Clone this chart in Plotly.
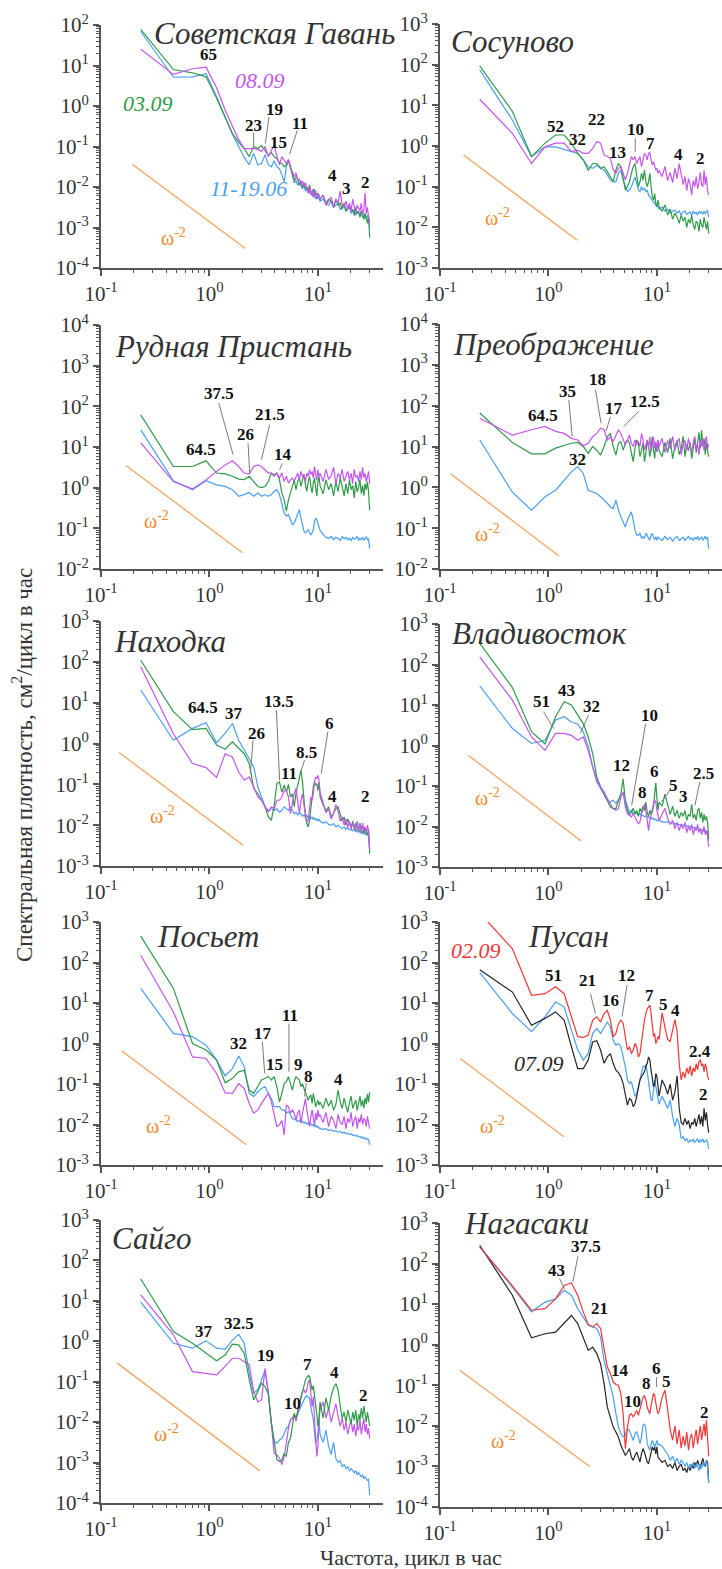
import plotly.graph_objects as go

# ---------------- frequency grid (cycles per hour) ----------------
DF = 30 / 129
K_IDX = list(range(1, 45)) + list(range(45, 130, 3))
FREQ = [k * DF for k in K_IDX]

# ---------------- data: log10 of spectral density ----------------
# 1. Советская Гавань
SG_GREEN = [1.89, 0.90, 0.82, 0.72, 0.20, -0.27, -0.68, -0.90, -1.05, -1.25,
            -1.00, -1.05, -0.98, -1.10, -1.22, -1.15, -1.25, -1.30, -1.40, -1.42,
            -1.50, -1.45, -1.35, -1.50, -1.70, -1.85, -1.75, -1.80, -1.95, -1.85,
            -2.00, -1.90, -2.05, -2.00, -2.10, -1.95, -2.10, -2.15, -2.05, -2.20,
            -2.10, -2.25, -2.15, -2.20,
            -2.30, -2.20, -2.40, -2.30, -2.35, -2.50, -2.30, -2.45, -2.40, -2.55,
            -2.40, -2.60, -2.50, -2.45, -2.60, -2.55, -2.70, -2.50, -2.65, -2.60,
            -2.75, -2.60, -2.70, -2.80, -2.65, -2.75, -2.90, -2.70, -3.25]
SG_BLUE = [1.84, 0.71, 0.72, 0.80, 0.23, -0.30, -0.70, -1.00, -1.27, -1.45,
           -1.17, -1.45, -1.42, -1.20, -1.45, -1.50, -1.35, -1.50, -1.55, -1.70,
           -1.87, -1.50, -1.33, -1.50, -1.75, -1.90, -1.85, -1.95, -1.90, -2.00,
           -2.05, -1.95, -2.10, -2.05, -2.15, -2.10, -2.20, -2.15, -2.25, -2.20,
           -2.30, -2.20, -2.30, -2.25,
           -2.35, -2.30, -2.40, -2.45, -2.35, -2.50, -2.45, -2.40, -2.55, -2.50,
           -2.45, -2.60, -2.55, -2.50, -2.65, -2.60, -2.55, -2.70, -2.60, -2.65,
           -2.70, -2.60, -2.75, -2.70, -2.65, -2.80, -2.70, -2.75, -3.00]
SG_PURPLE = [1.40, 0.78, 0.92, 0.96, 0.45, -0.10, -0.50, -0.83, -1.05, -1.05,
             -1.05, -1.07, -1.12, -1.00, -1.25, -1.10, -0.97, -1.25, -1.45, -1.25,
             -1.35, -1.42, -1.32, -1.55, -1.62, -1.75, -1.65, -1.85, -1.80, -1.95,
             -1.85, -2.00, -1.90, -2.05, -2.15, -2.00, -2.20, -2.10, -2.25, -2.05,
             -2.20, -2.30, -2.15, -2.25,
             -2.30, -2.20, -2.45, -2.35, -2.25, -2.50, -2.30, -2.40, -2.10, -2.45,
             -2.50, -2.35, -2.55, -2.40, -2.60, -2.30, -2.50, -2.65, -2.45, -2.55,
             -2.60, -2.40, -2.70, -2.55, -2.15, -2.65, -2.50, -2.75, -2.90]

# 2. Сосуново
SS_GREEN = [1.97, 0.85, -0.26, 0.07, 0.27, 0.27, 0.07, -0.18, -0.34, -0.60,
            -0.43, -0.43, -0.55, -0.51, -0.63, -0.76, -0.88, -0.59, -0.43, -0.51,
            -0.84, -1.08, -1.00, -0.88, -0.67, -0.51, -0.43, -0.76, -1.00, -0.88,
            -0.67, -0.84, -0.59, -0.88, -1.00, -0.88, -0.67, -1.00, -1.25, -1.33,
            -1.17, -1.41, -1.49, -1.33,
            -1.50, -1.60, -1.45, -1.70, -1.55, -1.80, -1.65, -1.75, -1.90, -1.70,
            -1.85, -1.75, -2.00, -1.80, -1.90, -1.70, -1.95, -2.05, -1.85, -1.90,
            -2.10, -1.80, -1.95, -2.00, -1.75, -1.90, -2.05, -1.85, -2.15]
SS_BLUE = [1.87, 0.64, -0.26, -0.02, -0.02, -0.08, -0.14, -0.18, -0.34, -0.51,
           -0.55, -0.47, -0.55, -0.59, -0.71, -0.84, -0.88, -0.88, -0.67, -0.59,
           -0.84, -1.00, -1.12, -1.08, -1.00, -0.88, -0.76, -0.92, -1.08, -1.12,
           -1.00, -1.08, -1.04, -1.12, -1.08, -1.21, -1.25, -1.29, -1.33, -1.37,
           -1.41, -1.45, -1.49, -1.49,
           -1.55, -1.50, -1.60, -1.55, -1.65, -1.60, -1.58, -1.65, -1.60, -1.70,
           -1.62, -1.60, -1.68, -1.65, -1.62, -1.70, -1.60, -1.66, -1.63, -1.70,
           -1.60, -1.65, -1.62, -1.68, -1.60, -1.66, -1.62, -1.58, -1.75]
SS_PURPLE = [1.15, 0.31, -0.43, -0.02, 0.07, 0.07, -0.14, -0.10, -0.18, -0.18,
             -0.06, 0.11, 0.07, -0.22, -0.26, -0.30, -0.59, -0.67, -0.55, -0.51,
             -0.67, -0.84, -0.67, -0.43, -0.26, -0.34, -0.26, -0.43, -0.34, -0.26,
             -0.51, -0.30, -0.18, -0.22, -0.34, -0.18, -0.16, -0.34, -0.47, -0.39,
             -0.51, -0.59, -0.55, -0.67,
             -0.60, -0.75, -0.50, -0.85, -0.65, -0.90, -0.55, -0.80, -0.43, -0.70,
             -0.95, -0.75, -1.10, -0.80, -0.95, -1.20, -0.85, -1.00, -0.75, -1.05,
             -0.90, -0.65, -0.95, -1.00, -0.60, -0.95, -0.75, -1.10, -1.20]

# 3. Рудная Пристань
RP_GREEN = [1.79, 0.52, 0.52, 0.66, 0.36, 0.34, 0.28, 0.21, 0.20, 0.28,
            0.15, 0.03, 0.00, 0.03, 0.15, 0.36, 0.32, 0.36, 0.20, -0.13,
            -0.30, -0.58, -0.30, -0.13, 0.03, 0.19, -0.05, 0.15, 0.24, 0.03,
            0.19, 0.32, 0.07, -0.09, 0.15, 0.28, 0.03, -0.13, 0.11, 0.24,
            -0.01, -0.21, 0.15, 0.28,
            0.05, -0.15, 0.20, -0.05, 0.10, -0.20, 0.15, -0.10, 0.25, 0.00,
            -0.20, 0.10, -0.15, 0.20, -0.05, 0.05, -0.25, 0.15, -0.10, 0.00,
            0.20, -0.15, 0.05, -0.20, 0.10, -0.05, 0.15, -0.10, -0.55]
RP_PURPLE = [1.10, 0.15, -0.03, 0.19, 0.40, 0.56, 0.66, 0.52, 0.36, 0.34,
             0.52, 0.56, 0.52, 0.44, 0.36, 0.36, 0.28, 0.36, 0.24, 0.36,
             0.15, 0.28, 0.11, 0.19, 0.24, 0.15, 0.28, 0.36, 0.19, 0.40,
             0.28, 0.32, 0.15, 0.36, 0.28, 0.44, 0.32, 0.40, 0.24, 0.52,
             0.32, 0.19, 0.44, 0.28,
             0.35, 0.15, 0.45, 0.20, 0.30, 0.50, 0.10, 0.35, 0.25, 0.45,
             0.15, 0.30, 0.40, 0.20, 0.35, 0.10, 0.45, 0.25, 0.30, 0.15,
             0.40, 0.20, 0.50, 0.25, 0.35, 0.15, 0.30, 0.40, 0.10]
RP_BLUE = [1.42, 0.17, -0.05, 0.17, 0.07, 0.03, -0.05, -0.21, -0.17, -0.12,
           -0.21, -0.13, -0.21, -0.17, -0.21, -0.17, -0.09, -0.05, -0.17, -0.38,
           -0.62, -0.70, -0.66, -0.79, -0.91, -0.87, -0.75, -0.62, -0.54, -0.75,
           -0.95, -1.07, -1.11, -1.07, -1.03, -1.11, -1.16, -1.11, -1.03, -0.83,
           -0.75, -0.79, -0.87, -0.95,
           -1.05, -1.15, -1.22, -1.25, -1.20, -1.28, -1.22, -1.25, -1.30, -1.20,
           -1.26, -1.22, -1.28, -1.24, -1.30, -1.22, -1.27, -1.25, -1.20, -1.30,
           -1.24, -1.28, -1.22, -1.30, -1.25, -1.20, -1.28, -1.26, -1.50]

# 4. Преображение
PR_PURPLE = [1.69, 1.28, 1.41, 1.49, 1.37, 1.32, 1.20, 1.16, 1.02, 1.08,
             1.24, 1.32, 1.45, 1.41, 1.16, 1.24, 1.12, 1.28, 1.41, 1.32,
             1.16, 1.04, 1.16, 1.28, 1.08, 1.00, 1.16, 1.04, 1.12, 1.00,
             1.32, 1.16, 0.91, 1.08, 1.16, 0.96, 1.24, 0.87, 1.08, 1.24,
             0.96, 1.12, 0.87, 1.16,
             1.00, 1.20, 0.85, 1.15, 0.95, 1.25, 0.90, 1.10, 1.20, 0.80,
             1.05, 1.15, 0.90, 1.20, 1.00, 0.85, 1.10, 1.25, 0.95, 1.05,
             0.80, 1.15, 1.00, 1.20, 0.90, 1.10, 1.25, 0.95, 1.05]
PR_GREEN = [1.82, 1.10, 0.82, 0.82, 0.96, 1.02, 1.08, 1.10, 1.00, 0.83,
            1.00, 0.91, 0.79, 1.00, 1.24, 1.32, 1.00, 0.79, 1.08, 1.12,
            0.91, 1.08, 1.16, 1.08, 0.87, 0.63, 0.96, 1.16, 1.08, 0.75,
            0.91, 1.08, 0.63, 0.83, 1.16, 1.00, 0.75, 1.04, 1.24, 0.91,
            0.71, 1.08, 0.87, 1.16,
            0.90, 0.75, 1.10, 0.85, 1.20, 0.70, 1.00, 1.15, 0.80, 0.95,
            1.25, 0.75, 1.05, 0.90, 1.10, 0.70, 1.00, 1.20, 0.85, 1.10,
            1.35, 0.95, 1.40, 1.00, 1.20, 0.80, 1.10, 0.90, 0.75]
PR_BLUE = [1.16, -0.12, -0.56, -0.23, -0.07, 0.18, 0.38, 0.51, 0.34, -0.07,
           -0.11, -0.15, -0.23, -0.31, -0.39, -0.48, -0.52, -0.31, -0.56, -0.72,
           -0.84, -0.97, -0.80, -0.68, -0.60, -0.80, -1.05, -1.17, -1.17, -1.13,
           -1.25, -1.21, -1.25, -1.13, -1.17, -1.25, -1.29, -1.17, -1.13, -1.23,
           -1.27, -1.21, -1.30, -1.21,
           -1.25, -1.30, -1.20, -1.28, -1.22, -1.32, -1.24, -1.20, -1.30, -1.26,
           -1.22, -1.30, -1.25, -1.20, -1.28, -1.24, -1.30, -1.22, -1.27, -1.20,
           -1.28, -1.25, -1.22, -1.30, -1.24, -1.20, -1.27, -1.22, -1.50]

# 5. Находка
NH_GREEN = [2.04, 0.78, 0.34, 0.37, -0.04, -0.14, 0.04, -0.12, -0.25, -0.49,
            -1.10, -1.23, -1.39, -1.55, -1.80, -1.88, -1.51, -0.98, -0.94, -1.19,
            -1.02, -1.19, -1.00, -1.31, -1.23, -1.55, -1.23, -1.02, -0.82, -0.65,
            -0.94, -1.39, -1.80, -1.96, -2.04, -1.88, -1.55, -1.39, -1.06, -0.94,
            -1.02, -0.98, -1.15, -0.94,
            -1.30, -1.50, -1.65, -1.55, -1.80, -1.70, -1.60, -1.55, -1.75, -1.90,
            -1.80, -2.00, -1.85, -1.95, -2.05, -1.90, -2.10, -1.95, -2.00, -2.15,
            -1.95, -2.10, -2.00, -2.20, -2.05, -2.15, -2.25, -2.10, -2.70]
NH_PURPLE = [1.88, 0.24, -0.49, -0.59, -0.83, -0.25, -0.33, -0.70, -0.90, -0.82,
             -1.06, -1.31, -1.39, -1.55, -1.68, -1.55, -1.60, -1.39, -1.39, -1.31,
             -1.15, -1.15, -1.31, -1.72, -1.47, -1.23, -1.10, -1.39, -1.72, -1.39,
             -1.23, -1.51, -1.72, -1.92, -1.88, -1.64, -1.31, -1.39, -1.23, -0.94,
             -0.82, -0.86, -0.78, -0.90,
             -1.20, -1.45, -1.70, -1.60, -1.85, -1.70, -1.50, -1.65, -1.90, -1.80,
             -2.00, -1.85, -2.05, -1.90, -2.10, -1.95, -2.00, -2.15, -1.90, -2.10,
             -2.00, -2.20, -1.95, -2.10, -2.05, -2.20, -2.00, -2.15, -2.60]
NH_BLUE = [1.31, 0.08, 0.37, 0.51, 0.02, 0.25, 0.49, 0.08, -0.16, -0.37,
           -0.57, -1.06, -1.31, -1.55, -1.64, -1.60, -1.64, -1.60, -1.68, -1.64,
           -1.55, -1.60, -1.64, -1.55, -1.64, -1.72, -1.68, -1.75, -1.70, -1.72,
           -1.78, -1.75, -1.80, -1.76, -1.82, -1.78, -1.84, -1.80, -1.86, -1.82,
           -1.88, -1.84, -1.90, -1.86,
           -1.90, -1.95, -1.92, -1.98, -2.00, -1.96, -2.04, -2.00, -2.06, -2.08,
           -2.04, -2.10, -2.06, -2.12, -2.10, -2.14, -2.10, -2.16, -2.12, -2.18,
           -2.14, -2.20, -2.16, -2.22, -2.18, -2.24, -2.20, -2.26, -2.60]

# 6. Владивосток
VL_GREEN = [2.52, 1.43, 0.34, 0.04, 0.71, 1.08, 1.00, 0.75, 0.54, 0.21,
            -0.20, -0.78, -1.02, -1.19, -1.35, -1.52, -1.56, -1.56, -1.35, -1.20,
            -0.82, -1.40, -1.60, -1.70, -1.65, -1.55, -1.70, -1.60, -1.75, -1.55,
            -1.65, -1.50, -1.60, -1.40, -1.65, -1.75, -1.60, -1.70, -1.65, -1.50,
            -1.20, -0.92, -1.30, -1.60,
            -1.40, -1.50, -1.20, -1.45, -1.70, -1.50, -1.75, -1.60, -1.80, -1.65,
            -1.75, -1.60, -1.85, -1.70, -1.75, -1.45, -1.80, -1.70, -1.85, -1.60,
            -1.55, -1.80, -1.65, -1.90, -1.70, -1.85, -1.75, -1.90, -2.30]
VL_PURPLE = [2.19, 1.12, 0.21, -0.12, 0.30, 0.30, 0.25, 0.13, 0.21, -0.12,
             -0.53, -0.86, -1.02, -1.15, -1.31, -1.44, -1.56, -1.60, -1.56, -1.27,
             -1.15, -1.52, -1.68, -1.72, -1.76, -1.68, -1.76, -1.85, -1.93, -1.89,
             -1.68, -1.60, -1.44, -1.60, -1.85, -2.10, -1.85, -1.68, -1.52, -1.44,
             -1.35, -1.40, -1.60, -1.76,
             -1.85, -1.70, -1.55, -1.80, -1.95, -1.85, -2.05, -1.90, -2.10, -1.95,
             -2.05, -1.90, -2.15, -2.00, -2.10, -1.95, -2.20, -2.05, -2.10, -1.95,
             -2.15, -2.05, -2.20, -2.10, -2.00, -2.20, -2.10, -2.25, -2.50]
VL_BLUE = [1.47, 0.42, 0.05, 0.13, 0.63, 0.71, 0.58, 0.53, 0.34, -0.03,
           -0.53, -0.90, -1.06, -1.23, -1.35, -1.39, -1.35, -1.43, -1.35, -1.23,
           -1.19, -1.35, -1.52, -1.64, -1.60, -1.68, -1.65, -1.70, -1.72, -1.68,
           -1.74, -1.72, -1.76, -1.74, -1.78, -1.76, -1.80, -1.78, -1.82, -1.80,
           -1.84, -1.82, -1.86, -1.84,
           -1.86, -1.88, -1.90, -1.88, -1.92, -1.90, -1.94, -1.92, -1.96, -1.94,
           -1.98, -1.96, -2.00, -1.98, -2.02, -2.00, -2.04, -2.02, -2.06, -2.04,
           -2.08, -2.06, -2.10, -2.08, -2.12, -2.10, -2.14, -2.12, -2.35]

# 7. Посьет
PS_GREEN = [2.65, 1.36, 0.00, -0.16, -0.41, -0.97, -0.86, -0.70, -0.66, -1.15,
            -1.23, -1.07, -0.90, -0.86, -0.82, -0.90, -0.82, -1.07, -1.44, -1.23,
            -0.99, -0.94, -0.82, -0.99, -1.15, -0.94, -0.82, -0.86, -0.90, -1.07,
            -0.99, -1.11, -1.23, -1.31, -1.40, -1.31, -1.27, -1.48, -1.23, -1.40,
            -1.56, -1.48, -1.40, -1.52,
            -1.45, -1.60, -1.35, -1.55, -1.40, -1.65, -1.50, -1.15, -1.45, -1.60,
            -1.35, -1.55, -1.70, -1.45, -1.30, -1.60, -1.50, -1.40, -1.65, -1.45,
            -1.30, -1.55, -1.40, -1.60, -1.35, -1.50, -1.25, -1.45, -1.20]
PS_PURPLE = [2.18, 0.78, -0.33, -0.37, -0.74, -1.22, -1.23, -0.99, -1.11, -1.48,
             -1.72, -1.64, -1.48, -1.36, -1.23, -1.44, -1.72, -2.05, -2.01, -1.90,
             -2.26, -1.52, -1.56, -1.72, -1.64, -1.72, -1.89, -1.72, -1.64, -1.97,
             -1.72, -1.56, -1.36, -1.64, -1.89, -2.05, -1.81, -1.64, -1.85, -2.01,
             -1.72, -1.89, -1.64, -1.81,
             -1.75, -1.95, -1.70, -2.05, -1.80, -1.90, -2.10, -1.75, -1.95, -2.00,
             -1.80, -2.10, -1.85, -1.95, -1.70, -2.05, -1.90, -1.80, -2.10, -1.85,
             -1.95, -1.75, -2.00, -1.85, -1.90, -2.05, -1.80, -1.95, -2.10]
PS_BLUE = [1.36, 0.25, 0.17, -0.04, -0.41, -0.80, -0.62, -0.31, -0.57, -1.23,
           -1.31, -1.19, -1.11, -1.07, -1.23, -1.36, -1.56, -1.56, -1.56, -1.64,
           -1.64, -1.72, -1.68, -1.76, -1.85, -1.87, -1.89, -1.93, -1.90, -1.95,
           -1.92, -1.97, -1.94, -1.99, -1.96, -2.01, -1.98, -2.03, -2.00, -2.05,
           -2.02, -2.07, -2.04, -2.09,
           -2.10, -2.12, -2.10, -2.15, -2.13, -2.17, -2.15, -2.19, -2.17, -2.21,
           -2.19, -2.23, -2.21, -2.25, -2.23, -2.27, -2.25, -2.29, -2.27, -2.31,
           -2.29, -2.33, -2.31, -2.35, -2.33, -2.37, -2.35, -2.38, -2.50]

# 8. Пусан
PU_RED = [3.22, 2.34, 1.19, 1.23, 1.40, 1.23, 0.66, 0.17, 0.15, 0.21,
          0.58, 0.66, 0.53, 0.74, 0.82, 0.58, 0.17, 0.25, 0.49, 0.58,
          0.50, 0.17, -0.16, -0.08, -0.25, -0.16, 0.00, -0.08, -0.33, -0.25,
          0.08, 0.33, 0.58, 0.74, 0.86, 0.90, 0.95, 0.74, 0.41, 0.17,
          0.25, 0.00, 0.08, 0.17,
          0.10, 0.76, 0.40, 0.10, 0.05, 0.35, 0.59, 0.30, -0.50, -0.90,
          -0.70, -0.85, -0.60, -0.75, -0.55, -0.80, -0.60, -0.70, -0.50, -0.65,
          -0.45, -0.40, -0.55, -0.50, -0.70, -0.50, -0.60, -0.80, -0.90]
PU_BLUE = [1.75, 0.74, 0.29, 0.66, 1.03, 0.90, 0.33, -0.16, -0.41, -0.25,
           0.25, 0.37, 0.25, 0.41, 0.53, 0.41, 0.08, -0.04, 0.00, -0.08,
           -0.33, -0.57, -0.90, -0.99, -0.94, -1.15, -1.31, -1.23, -1.07, -0.90,
           -0.74, -0.57, -0.57, -0.53, -0.70, -0.90, -1.15, -1.40, -1.40, -1.07,
           -0.90, -1.07, -1.23, -1.40,
           -1.50, -1.30, -1.45, -1.60, -1.40, -1.80, -2.05, -1.85, -2.00, -2.35,
           -2.30, -2.40, -2.35, -2.45, -2.38, -2.42, -2.36, -2.44, -2.40, -2.35,
           -2.45, -2.38, -2.42, -2.36, -2.44, -2.40, -2.38, -2.43, -2.60]
PU_BLACK = [1.82, 1.27, 0.45, 0.62, 0.78, 0.58, -0.08, -0.62, -0.62, -0.41,
            0.04, 0.07, -0.16, -0.49, -0.33, -0.25, -0.49, -0.66, -0.72, -0.82,
            -0.99, -1.31, -1.52, -1.36, -1.40, -1.56, -1.48, -1.31, -1.11, -0.90,
            -0.82, -0.74, -0.70, -0.57, -0.49, -0.33, -0.41, -0.66, -0.90, -1.07,
            -0.99, -0.74, -0.82, -1.07,
            -1.30, -0.90, -1.05, -1.25, -1.00, -1.40, -1.20, -0.80, -1.60, -1.95,
            -2.00, -1.85, -2.00, -1.90, -2.10, -1.95, -2.00, -1.85, -2.05, -1.90,
            -1.75, -2.00, -1.80, -2.05, -1.60, -1.90, -1.70, -2.00, -2.20]

# 9. Сайго
SA_GREEN = [1.54, 0.24, -0.05, -0.29, -0.48, -0.34, -0.07, -0.09, -0.30, -0.95,
            -1.45, -1.24, -1.04, -1.12, -1.30, -2.02, -2.52, -2.93, -2.97, -2.95,
            -2.77, -2.85, -2.50, -2.40, -2.10, -1.78, -1.90, -1.75, -1.60, -1.40,
            -1.25, -1.10, -0.95, -0.90, -0.85, -0.87, -1.00, -1.20, -1.10, -1.30,
            -1.60, -1.80, -2.10, -1.90,
            -1.50, -1.90, -1.40, -1.70, -1.35, -1.15, -1.05, -1.20, -1.60, -1.90,
            -1.75, -2.00, -1.70, -1.85, -2.05, -1.75, -1.95, -1.70, -2.10, -1.80,
            -1.95, -1.65, -1.90, -1.60, -1.85, -2.00, -1.75, -1.95, -2.10]
SA_PURPLE = [1.15, 0.16, -0.75, -0.79, -0.83, -0.62, -0.42, -0.42, -0.50, -0.58,
             -1.24, -1.50, -1.45, -0.67, -1.28, -2.15, -2.77, -2.81, -2.89, -3.05,
             -2.85, -2.52, -2.15, -1.94, -1.90, -1.82, -1.98, -1.78, -1.62, -1.37,
             -1.24, -1.20, -1.28, -1.20, -1.00, -0.95, -1.28, -1.62, -1.37, -1.78,
             -2.43, -2.85, -2.60, -1.94,
             -1.70, -1.50, -1.90, -1.65, -2.00, -1.75, -1.55, -1.85, -2.10, -1.90,
             -2.20, -2.00, -2.30, -2.10, -1.95, -2.25, -2.05, -2.35, -2.10, -2.20,
             -1.95, -2.30, -2.10, -1.90, -2.25, -2.05, -2.30, -2.15, -2.40]
SA_BLUE = [0.97, -0.05, -0.17, 0.01, -0.17, -0.20, 0.03, 0.17, -0.05, -0.79,
           -1.28, -1.20, -0.95, -0.71, -1.28, -2.02, -2.48, -2.52, -2.44, -2.40,
           -2.28, -2.15, -2.11, -1.94, -1.90, -1.86, -1.90, -1.78, -1.70, -1.62,
           -1.53, -1.45, -1.37, -1.35, -1.37, -1.41, -1.62, -1.78, -1.94, -2.27,
           -2.52, -2.44, -2.27, -1.94,
           -2.30, -2.50, -2.20, -2.60, -2.80, -2.50, -2.90, -3.00, -2.95, -3.10,
           -3.05, -3.15, -3.10, -3.20, -3.15, -3.20, -3.25, -3.20, -3.30, -3.25,
           -3.30, -3.35, -3.30, -3.40, -3.35, -3.40, -3.45, -3.40, -3.80]

# 10. Нагасаки
NG_RED = [2.41, 1.45, 0.85, 0.89, 1.13, 1.46, 1.52, 1.22, 0.81, 0.50,
          0.44, 0.52, 0.40, -0.14, -0.55, -0.71, -0.92, -0.98, -1.00, -1.21,
          -1.70, -2.56, -2.03, -1.74, -1.70, -1.78, -1.70, -1.62, -1.74, -1.60,
          -1.45, -1.30, -1.25, -1.35, -1.55, -1.65, -1.70, -1.50, -1.30, -1.20,
          -1.25, -1.45, -1.60, -1.70,
          -1.65, -1.30, -1.12, -1.60, -2.10, -2.35, -2.00, -2.45, -2.10, -2.55,
          -2.25, -2.50, -2.15, -2.60, -2.30, -2.20, -2.55, -2.30, -2.10, -2.45,
          -2.20, -2.00, -2.35, -2.15, -1.95, -2.25, -1.85, -2.30, -2.75]
NG_BLUE = [2.41, 1.42, 0.81, 1.05, 1.13, 1.34, 1.22, 0.89, 0.68, 0.48,
           0.44, 0.40, 0.19, -0.39, -0.71, -1.04, -1.29, -1.70, -2.03, -2.19,
           -2.27, -2.23, -2.07, -2.11, -2.27, -2.36, -2.19, -2.15, -2.27, -2.44,
           -2.27, -1.99, -1.95, -2.07, -2.44, -2.52, -2.60, -2.44, -2.36, -2.44,
           -2.52, -2.44, -2.36, -2.48,
           -2.45, -2.50, -2.60, -2.70, -2.85, -2.75, -2.90, -2.80, -2.95, -2.85,
           -2.90, -3.00, -2.90, -3.05, -2.95, -3.00, -2.90, -3.05, -2.95, -3.00,
           -3.10, -2.95, -3.05, -2.90, -3.00, -2.95, -2.85, -3.00, -3.40]
NG_BLACK = [2.45, 1.22, 0.17, 0.27, 0.31, 0.52, 0.72, 0.52, 0.19, -0.14,
            -0.06, -0.22, -0.47, -0.96, -1.54, -1.78, -2.03, -2.15, -2.28, -2.48,
            -2.60, -2.73, -2.65, -2.56, -2.77, -2.85, -2.73, -2.65, -2.77, -2.89,
            -2.69, -2.56, -2.65, -2.77, -2.89, -2.93, -2.77, -2.65, -2.52, -2.60,
            -2.52, -2.69, -2.52, -2.77,
            -2.80, -2.90, -2.85, -3.00, -2.95, -3.05, -2.90, -3.10, -3.00, -2.95,
            -3.10, -3.05, -3.15, -3.00, -3.10, -2.95, -3.05, -2.90, -3.00, -2.85,
            -2.95, -3.05, -2.90, -2.80, -2.95, -3.00, -2.85, -2.90, -3.40]

# ---------------- tick labels ----------------
X_TICKS = [0.1, 1, 10]
X_TICKTEXT = ["10<sup>-1</sup>", "10<sup>0</sup>", "10<sup>1</sup>"]

# ---------------- styles ----------------
GREEN = "#2f9a48"
PURPLE = "#c455ec"
BLUE = "#4a9ff0"
RED = "#f03636"
BLACK = "#262626"
ORANGE = "#f5a35f"
ORANGE_TXT = "#f08a2c"
AXIS = "#555555"
SERIF = "Liberation Serif, Times New Roman, serif"

W, H = 722, 1569
LEFT = (101, 383)
RIGHT = (440, 722)

PANELS = [
    dict(title="Советская Гавань", tpos=(-0.534, 1.79), yr=(-4, 2), xd=LEFT, yd=(25, 268),
         series=[(SG_BLUE, BLUE), (SG_GREEN, GREEN), (SG_PURPLE, PURPLE)],
         omega=((-0.712, -1.44), (0.331, -3.52)), olab=(-0.334, -3.23),
         peaks=[("65", -0.012, 1.26), ("23", 0.408, -0.47), ("19", 0.601, -0.09), ("15", 0.632, -0.89),
                ("11", 0.831, -0.42), ("4", 1.138, -1.71), ("3", 1.261, -2.04), ("2", 1.442, -1.88)],
         leaders=[(0.408, -0.66, 0.408, -1.01), (0.549, -0.27, 0.515, -0.93), (0.81, -0.6, 0.739, -1.19)],
         slabels=[("03.09", GREEN, -0.564, 0.06), ("08.09", PURPLE, 0.463, 0.64), ("11-19.06", BLUE, 0.356, -2.04)]),
    dict(title="Сосуново", tpos=(-0.914, 2.57), yr=(-3, 3), xd=RIGHT, yd=(24, 268),
         series=[(SS_BLUE, BLUE), (SS_GREEN, GREEN), (SS_PURPLE, PURPLE)],
         omega=((-0.783, -0.22), (0.265, -2.32)), olab=(-0.47, -1.74),
         peaks=[("52", 0.066, 0.49), ("32", 0.271, 0.15), ("22", 0.44, 0.66), ("13", 0.639, -0.16),
                ("10", 0.80, 0.40), ("7", 0.945, 0.07), ("4", 1.199, -0.22), ("2", 1.404, -0.30)],
         leaders=[(0.80, 0.19, 0.80, -0.14)], slabels=[]),
    dict(title="Рудная Пристань", tpos=(-0.886, 3.47), yr=(-2, 4), xd=LEFT, yd=(325, 569),
         series=[(RP_BLUE, BLUE), (RP_GREEN, GREEN), (RP_PURPLE, PURPLE)],
         omega=((-0.770, 0.547), (0.304, -1.60)), olab=(-0.49, -0.79),
         peaks=[("64.5", -0.074, 0.93), ("37.5", 0.086, 2.32), ("26", 0.331, 1.30),
                ("21.5", 0.555, 1.79), ("14", 0.678, 0.81)],
         leaders=[(0.086, 2.08, 0.218, 0.81), (0.356, 1.09, 0.371, 0.36), (0.555, 1.55, 0.479, 0.69),
                  (0.672, 0.6, 0.647, 0.44)], slabels=[]),
    dict(title="Преображение", tpos=(-0.9, 3.49), yr=(-2, 4), xd=RIGHT, yd=(324, 569),
         series=[(PR_BLUE, BLUE), (PR_GREEN, GREEN), (PR_PURPLE, PURPLE)],
         omega=((-0.899, 0.326), (0.0965, -1.68)), olab=(-0.56, -1.13),
         peaks=[("64.5", -0.047, 1.77), ("35", 0.173, 2.35), ("18", 0.449, 2.63), ("17", 0.602, 1.94),
                ("12.5", 0.893, 2.10), ("32", 0.265, 0.67)],
         leaders=[(0.188, 2.14, 0.219, 1.24), (0.433, 2.39, 0.485, 1.57), (0.571, 1.73, 0.531, 1.37),
                  (0.832, 1.86, 0.694, 1.49)], slabels=[]),
    dict(title="Находка", tpos=(-0.9, 2.49), yr=(-3, 3), xd=LEFT, yd=(621, 866),
         series=[(NH_BLUE, BLUE), (NH_GREEN, GREEN), (NH_PURPLE, PURPLE)],
         omega=((-0.834, -0.22), (0.310, -2.49)), olab=(-0.43, -1.76),
         peaks=[("64.5", -0.064, 0.88), ("37", 0.227, 0.74), ("26", 0.433, 0.24), ("13.5", 0.641, 1.02),
                ("11", 0.733, -0.74), ("8.5", 0.893, -0.22), ("6", 1.107, 0.49), ("4", 1.138, -1.31),
                ("2", 1.442, -1.31)],
         leaders=[(0.402, 0.08, 0.377, -0.74), (0.617, 0.82, 0.647, -0.9), (0.877, -0.41, 0.847, -0.65),
                  (1.092, 0.29, 1.03, -0.74)], slabels=[]),
    dict(title="Владивосток", tpos=(-0.905, 2.77), yr=(-3, 3), xd=RIGHT, yd=(624, 867),
         series=[(VL_BLUE, BLUE), (VL_GREEN, GREEN), (VL_PURPLE, PURPLE)],
         omega=((-0.740, -0.24), (0.302, -2.36)), olab=(-0.56, -1.27),
         peaks=[("51", -0.06, 1.08), ("43", 0.17, 1.37), ("32", 0.40, 0.96), ("10", 0.936, 0.75),
                ("12", 0.675, -0.5), ("8", 0.868, -1.15), ("6", 0.98, -0.65), ("5", 1.15, -0.98),
                ("3", 1.242, -1.25), ("2.5", 1.426, -0.69)],
         leaders=[(-0.044, 0.83, 0.047, 0.42), (0.369, 0.75, 0.293, 0.3), (0.896, 0.54, 0.767, -1.48),
                  (1.12, -1.1, 1.043, -1.39), (1.395, -0.9, 1.35, -1.48)], slabels=[]),
    dict(title="Посьет", tpos=(-0.503, 2.63), yr=(-3, 3), xd=LEFT, yd=(922, 1165),
         series=[(PS_BLUE, BLUE), (PS_PURPLE, PURPLE), (PS_GREEN, GREEN)],
         omega=((-0.810, -0.18), (0.340, -2.50)), olab=(-0.47, -2.01),
         peaks=[("32", 0.264, 0.0), ("17", 0.494, 0.25), ("15", 0.601, -0.51), ("11", 0.739, 0.7),
                ("9", 0.825, -0.53), ("8", 0.917, -0.82), ("4", 1.19, -0.9)],
         leaders=[(0.488, 0.04, 0.509, -0.74), (0.733, 0.49, 0.733, -0.7), (0.893, -0.99, 0.877, -1.31)],
         slabels=[]),
    dict(title="Пусан", tpos=(-0.21, 2.63), yr=(-3, 3), xd=RIGHT, yd=(922, 1165),
         series=[(PU_BLUE, BLUE), (PU_BLACK, BLACK), (PU_RED, RED)],
         omega=((-0.813, -0.37), (0.142, -2.30)), olab=(-0.52, -2.01),
         peaks=[("51", 0.05, 1.69), ("21", 0.357, 1.56), ("16", 0.571, 1.07), ("12", 0.724, 1.69),
                ("7", 0.933, 1.19), ("5", 1.061, 0.97), ("4", 1.168, 0.82), ("2.4", 1.398, -0.2),
                ("2", 1.429, -1.27)],
         leaders=[(0.387, 1.23, 0.433, 0.74), (0.724, 1.44, 0.678, 0.66)],
         slabels=[("02.09", RED, -0.669, 2.3), ("07.09", BLACK, -0.087, -0.49)]),
    dict(title="Сайго", tpos=(-0.917, 2.55), yr=(-4, 3), xd=LEFT, yd=(1220, 1503),
         series=[(SA_BLUE, BLUE), (SA_PURPLE, PURPLE), (SA_GREEN, GREEN)],
         omega=((-0.850, -0.54), (0.463, -3.20)), olab=(-0.40, -2.27),
         peaks=[("37", -0.049, 0.24), ("32.5", 0.273, 0.43), ("19", 0.515, -0.36), ("10", 0.77, -1.55),
                ("7", 0.908, -0.57), ("4", 1.153, -0.77), ("2", 1.42, -1.33)],
         leaders=[], slabels=[]),
    dict(title="Нагасаки", tpos=(-0.793, 2.995), yr=(-4, 3), xd=RIGHT, yd=(1223, 1507),
         series=[(NG_BLACK, BLACK), (NG_BLUE, BLUE), (NG_RED, RED)],
         omega=((-0.818, -0.63), (0.380, -3.00)), olab=(-0.41, -2.36),
         peaks=[("43", 0.071, 1.82), ("37.5", 0.343, 2.41), ("21", 0.466, 0.89), ("14", 0.664, -0.63),
                ("10", 0.775, -1.39), ("8", 0.904, -0.96), ("6", 0.997, -0.59), ("5", 1.09, -0.9),
                ("2", 1.435, -1.66)],
         leaders=[(0.102, 1.63, 0.148, 1.38), (0.272, 2.18, 0.225, 1.55), (0.997, -0.8, 0.997, -1.04)],
         slabels=[]),
]


def minor_vals(lo, hi):
    out = []
    for e in range(lo - 1, hi + 1):
        for m in range(2, 10):
            v = m * 10.0 ** e
            if 10.0 ** lo < v < 10.0 ** hi:
                out.append(v)
    return out


fig = go.Figure()
annotations = []
layout = dict(width=W, height=H, margin=dict(l=0, r=0, t=0, b=0, pad=0, autoexpand=False), autosize=False,
              paper_bgcolor="white", plot_bgcolor="white", showlegend=False)

for i, p in enumerate(PANELS):
    n = "" if i == 0 else str(i + 1)
    xr, yr = "x" + n, "y" + n
    lo, hi = p["yr"]
    common = dict(type="log", showline=True, linecolor=AXIS, linewidth=2, mirror=False,
                  ticks="outside", ticklen=6, tickwidth=1.5, tickcolor=AXIS, showgrid=False,
                  zeroline=False, automargin=False,
                  tickfont=dict(family=SERIF, size=21, color="#333333"))
    layout["xaxis" + n] = dict(common, domain=[p["xd"][0] / W, p["xd"][1] / W], anchor=yr,
                               range=[-1, 1.6], tickmode="array", tickvals=X_TICKS, ticktext=X_TICKTEXT,
                               minor=dict(tickmode="array", tickvals=minor_vals(-1, 2), ticks="outside",
                                          ticklen=3, tickwidth=1, tickcolor=AXIS, showgrid=False))
    ytv = [10.0 ** e for e in range(lo, hi + 1)]
    ytt = ["10<sup>%d</sup>" % e for e in range(lo, hi + 1)]
    layout["yaxis" + n] = dict(common, domain=[1 - p["yd"][1] / H, 1 - p["yd"][0] / H], anchor=xr,
                               range=[lo, hi], tickmode="array", tickvals=ytv, ticktext=ytt,
                               minor=dict(tickmode="array", tickvals=minor_vals(lo, hi), ticks="outside",
                                          ticklen=3, tickwidth=1, tickcolor=AXIS, showgrid=False))

    # omega^-2 reference line
    (ox0, oy0), (ox1, oy1) = p["omega"]
    fig.add_trace(go.Scatter(x=[10 ** ox0, 10 ** ox1], y=[10 ** oy0, 10 ** oy1], mode="lines",
                             line=dict(color=ORANGE, width=1.3), xaxis=xr, yaxis=yr, hoverinfo="skip"))
    # spectra
    for vals, col in p["series"]:
        fig.add_trace(go.Scatter(x=FREQ[:len(vals)], y=[10 ** v for v in vals], mode="lines",
                                 line=dict(color=col, width=1.2), xaxis=xr, yaxis=yr))
    # leader lines
    for (a, b, c, d) in p["leaders"]:
        fig.add_trace(go.Scatter(x=[10 ** a, 10 ** c], y=[10 ** b, 10 ** d], mode="lines",
                                 line=dict(color="#7a7a7a", width=1), xaxis=xr, yaxis=yr, hoverinfo="skip"))
    # title
    annotations.append(dict(xref=xr, yref=yr, x=p["tpos"][0], y=p["tpos"][1], xanchor="left",
                            yanchor="middle", showarrow=False, text="<i>%s</i>" % p["title"],
                            font=dict(family=SERIF, size=31, color="#333333")))
    # omega label
    annotations.append(dict(xref=xr, yref=yr, x=p["olab"][0], y=p["olab"][1], xanchor="center",
                            yanchor="middle", showarrow=False, text="ω<sup>-2</sup>",
                            font=dict(family=SERIF, size=20, color=ORANGE_TXT)))
    for (t, lx, ly) in p["peaks"]:
        annotations.append(dict(xref=xr, yref=yr, x=lx, y=ly, xanchor="center", yanchor="middle",
                                showarrow=False, text="<b>%s</b>" % t,
                                font=dict(family=SERIF, size=17, color="#111111")))
    for (t, col, lx, ly) in p["slabels"]:
        annotations.append(dict(xref=xr, yref=yr, x=lx, y=ly, xanchor="center", yanchor="middle",
                                showarrow=False, text="<i>%s</i>" % t,
                                font=dict(family=SERIF, size=22, color=col)))

annotations.append(dict(xref="paper", yref="paper", x=22 / W, y=1 - 765 / H, xanchor="center",
                        yanchor="middle", textangle=-90, showarrow=False,
                        text="Спектральная плотность, см<sup>2</sup>/цикл в час",
                        font=dict(family=SERIF, size=23, color="#333333")))
annotations.append(dict(xref="paper", yref="paper", x=411 / W, y=1 - 1557 / H, xanchor="center",
                        yanchor="middle", showarrow=False, text="Частота, цикл в час",
                        font=dict(family=SERIF, size=22, color="#333333")))

layout["annotations"] = annotations
fig.update_layout(**layout)
fig.write_html("out.html")
